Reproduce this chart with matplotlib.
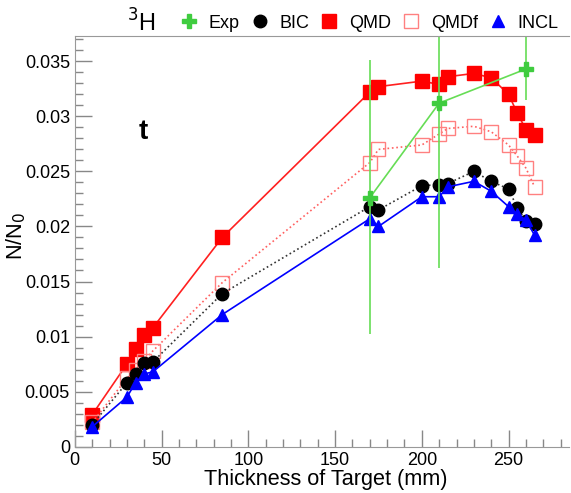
import matplotlib.pyplot as plt
from matplotlib.lines import Line2D
from matplotlib.ticker import MultipleLocator

plt.rcParams['font.family'] = ['Liberation Sans', 'DejaVu Sans']

thickness = [10, 30, 35, 40, 45, 85, 170, 175, 200, 210, 215, 230, 240, 250, 255, 260, 265]

qmd = [0.0029, 0.0075, 0.0089, 0.0101, 0.0108, 0.0190, 0.0322, 0.0327, 0.0332, 0.0329, 0.0336,
       0.0339, 0.0335, 0.0320, 0.0303, 0.0288, 0.0283]
qmdf = [0.0022, 0.0062, 0.0070, 0.0078, 0.0087, 0.0149, 0.0258, 0.0270, 0.0274, 0.0284, 0.0289,
        0.0291, 0.0286, 0.0274, 0.0264, 0.0253, 0.0236]
bic = [0.0020, 0.0058, 0.0066, 0.0076, 0.0077, 0.0139, 0.0218, 0.0215, 0.0237, 0.0238, 0.0239,
       0.0250, 0.0241, 0.0234, 0.0217, 0.0205, 0.0202]
incl = [0.0018, 0.0045, 0.0058, 0.0066, 0.0068, 0.0120, 0.0207, 0.0200, 0.0227, 0.0227, 0.0236,
        0.0241, 0.0232, 0.0218, 0.0211, 0.0206, 0.0192]

exp_x = [170, 210, 260]
exp_y = [0.0226, 0.0312, 0.0343]
exp_lo = [0.0124, 0.0150, 0.0028]
exp_hi = [0.0125, 0.0095, 0.0063]

# marker styles shared by the curves and the legend entries
styles = {
    'Exp': dict(marker='P', ms=10, mfc='#3fcc3f', mec='#3fcc3f'),
    'BIC': dict(marker='o', ms=9, mfc='black', mec='black'),
    'QMD': dict(marker='s', ms=10, mfc='red', mec='red'),
    'QMDf': dict(marker='s', ms=10, mfc='none', mec='#ff8080', mew=1.0),
    'INCL': dict(marker='^', ms=9, mfc='blue', mec='blue'),
}

fig = plt.figure(figsize=(5.71, 4.93), dpi=100)
ax = fig.add_axes([0.131, 0.094, 0.866, 0.833])

ax.plot(thickness, qmd, color='#ff2020', lw=1.2, **styles['QMD'])
ax.plot(thickness, qmdf, color='#ff6060', lw=1.2, ls=':', **styles['QMDf'])
ax.plot(thickness, bic, color='#333333', lw=1.2, ls=':', **styles['BIC'])
ax.plot(thickness, incl, color='blue', lw=1.2, **styles['INCL'])
ax.errorbar(exp_x, exp_y, yerr=[exp_lo, exp_hi], color='#66dd55', ecolor='#66dd55', lw=1.2,
            elinewidth=1.2, capsize=0, **styles['Exp'])

ax.text(37, 0.0279, 't', fontsize=20, fontweight='bold')

ax.set_xlim(0, 285)
ax.set_ylim(0, 0.0373)
ax.xaxis.set_major_locator(MultipleLocator(50))
ax.xaxis.set_minor_locator(MultipleLocator(10))
ax.yaxis.set_major_locator(MultipleLocator(0.005))
ax.yaxis.set_minor_locator(MultipleLocator(0.001))
ax.tick_params(which='both', direction='in', colors='#888888', labelcolor='black', labelsize=13)
ax.tick_params(which='major', length=12, width=1)
ax.tick_params(which='minor', length=6, width=1)
ax.set_yticks([0, 0.005, 0.01, 0.015, 0.02, 0.025, 0.03, 0.035])
ax.set_yticklabels(['0', '0.005', '0.01', '0.015', '0.02', '0.025', '0.03', '0.035'])
ax.set_xticks([0, 50, 100, 150, 200, 250])
for s in ax.spines.values():
    s.set_color('#999999')
ax.spines['right'].set_visible(False)

ax.set_xlabel('Thickness of Target (mm)', fontsize=15.6)
ax.xaxis.set_label_coords(0.507, -0.055)
ax.set_ylabel(r'N/N$_0$', fontsize=15.6)
ax.yaxis.set_label_coords(-0.095, 0.513)

names = ['Exp', 'BIC', 'QMD', 'QMDf', 'INCL']
handles = [Line2D([], [], ls='none', **styles[n]) for n in names]
fig.legend(handles, names, loc='center left', bbox_to_anchor=(0.315, 0.953), ncol=5,
           frameon=False, fontsize=13, handlelength=1.0, handletextpad=0.6,
           columnspacing=0.6, borderpad=0, borderaxespad=0)
fig.text(0.247, 0.953, r'$^{3}$H', fontsize=17, ha='center', va='center')

fig.savefig('out.png', dpi=100)
